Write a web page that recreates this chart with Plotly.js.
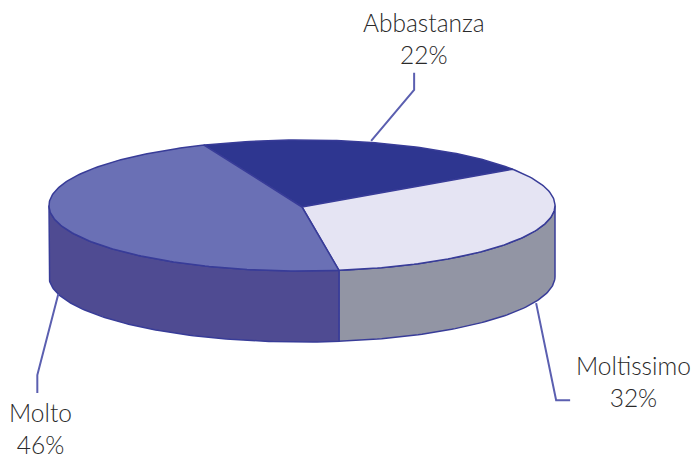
<!DOCTYPE html>
<html>
<head>
<meta charset="utf-8">
<script src="https://cdn.plot.ly/plotly-3.0.1.min.js"></script>
<style>html,body{margin:0;padding:0;background:#fff}</style>
</head>
<body>
<div id="chart" style="width:692px;height:460px"></div>
<script>
const categories = ["Abbastanza", "Moltissimo", "Molto"];
const values = [22, 32, 46];
const topColors = ["#2e3690", "#e5e4f3", "#6a70b5"];
const sideColors = ["#2e3690", "#9295a4", "#4f4b92"];
const leaderOffsets = [[[-4,-2],[39,-53],[39,-70]], [[3,0],[23,97],[37,97]], [[0,0],[-21,81],[-21,99]]];
const labelPositions = [[423.5,38], [633,381], [40,428]];

const cx = 302, cy = 205.5, rx = 253, ry = 65.5, depth = 71, startAngle = 112.8;
const rad = d => d * Math.PI / 180;
const px = a => cx + rx * Math.cos(rad(a));
const py = (a, dz) => cy - ry * Math.sin(rad(a)) + (dz || 0);

function arc(from, to) {
  const n = Math.max(2, Math.ceil(Math.abs(to - from)));
  const out = [];
  for (let i = 0; i <= n; i++) out.push(from + (to - from) * i / n);
  return out;
}

const total = values.reduce((a, b) => a + b, 0);
let cum = 0;
const slices = values.map((v, i) => {
  const a0 = startAngle - cum / total * 360;
  cum += v;
  const a1 = startAngle - cum / total * 360;
  return {i, a0, a1, mid: (a0 + a1) / 2};
});

const outline = {color: "#383c98", width: 1.5};
const traces = [];

// front walls: slices run clockwise from startAngle, so angles in [-180, 0] face the viewer
slices.forEach(s => {
  const from = s.a0 > 0 ? 0 : s.a0, to = s.a1 < -180 ? -180 : s.a1;
  if (from <= to) return;
  const top = arc(from, to), bot = top.slice().reverse();
  traces.push({
    type: "scatter", mode: "lines", fill: "toself", fillcolor: sideColors[s.i],
    line: outline, hoverinfo: "skip", name: categories[s.i],
    x: top.map(a => px(a)).concat(bot.map(a => px(a)), [px(from)]),
    y: top.map(a => py(a)).concat(bot.map(a => py(a, depth)), [py(from)])
  });
});

// top faces
slices.forEach(s => {
  const pts = arc(s.a0, s.a1);
  traces.push({
    type: "scatter", mode: "lines", fill: "toself", fillcolor: topColors[s.i],
    line: outline, hoverinfo: "skip", name: categories[s.i],
    x: [cx].concat(pts.map(a => px(a)), [cx]),
    y: [cy + 1.5].concat(pts.map(a => py(a)), [cy + 1.5])
  });
});

// leader lines start at each slice's mid-angle on its outer rim
slices.forEach(s => {
  const sx = px(s.mid), sy = py(s.mid, Math.sin(rad(s.mid)) < 0 ? depth : 0);
  traces.push({
    type: "scatter", mode: "lines", hoverinfo: "skip",
    line: {color: "#5b5fb0", width: 2},
    x: leaderOffsets[s.i].map(o => sx + o[0]),
    y: leaderOffsets[s.i].map(o => sy + o[1])
  });
});

const annotations = slices.map(s => ({
  x: labelPositions[s.i][0], y: labelPositions[s.i][1],
  xref: "x", yref: "y", xanchor: "center", yanchor: "middle", showarrow: false,
  text: categories[s.i] + "<br>" + values[s.i] + "%",
  font: {family: "Lato, 'Open Sans', sans-serif", size: 24.5, color: "#2a2a2a", weight: 300}
}));

Plotly.newPlot("chart", traces, {
  width: 692, height: 460, showlegend: false,
  margin: {l: 0, r: 0, t: 0, b: 0},
  paper_bgcolor: "#fff", plot_bgcolor: "#fff",
  xaxis: {range: [0, 692], visible: false, fixedrange: true},
  yaxis: {range: [460, 0], visible: false, fixedrange: true},
  annotations
}, {displayModeBar: false, staticPlot: true});
</script>
</body>
</html>
